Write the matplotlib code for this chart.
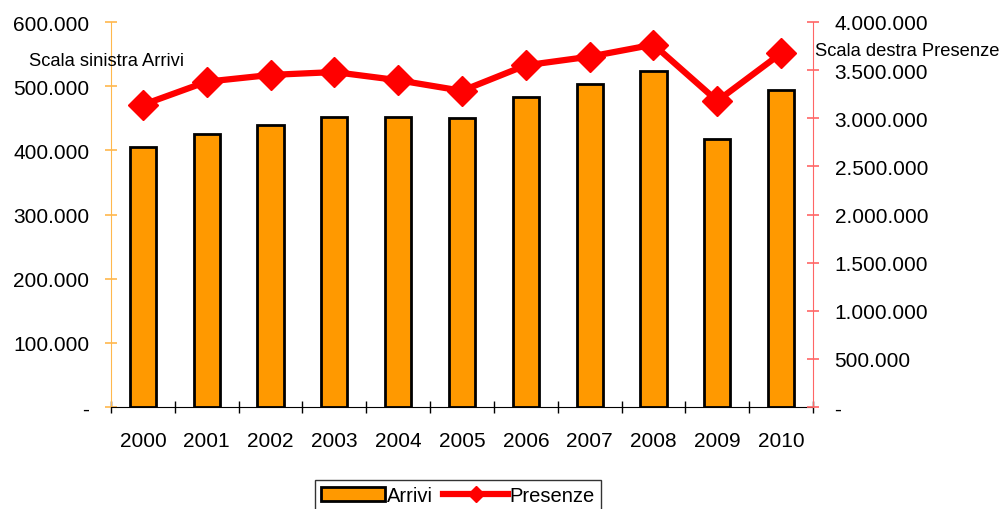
import matplotlib
matplotlib.use("Agg")
import matplotlib.pyplot as plt
from matplotlib.ticker import FuncFormatter, FixedLocator
import numpy as np

plt.rcParams['font.family'] = ['Liberation Sans', 'DejaVu Sans']

anni = ['2000', '2001', '2002', '2003', '2004', '2005', '2006', '2007', '2008', '2009', '2010']
arrivi = [405000, 426000, 440000, 452000, 452000, 451000, 483000, 504000, 523000, 418000, 494000]
presenze = [3140000, 3380000, 3450000, 3480000, 3395000, 3285000, 3550000, 3640000, 3765000, 3180000, 3675000]
tick_sx = [0, 100000, 200000, 300000, 400000, 500000, 600000]
tick_dx = [0, 500000, 1000000, 1500000, 2000000, 2500000, 3000000, 3500000, 4000000]


def fmt_it(v, pos=None):
    if v == 0:
        return '-'
    return f"{int(round(v)):,}".replace(',', '.')


fig = plt.figure(figsize=(10.01, 5.10), dpi=100)
ax = fig.add_axes([111 / 1001, 102 / 510, 702 / 1001, 385 / 510])
ax2 = ax.twinx()

x = np.arange(len(anni))
ax.bar(x, arrivi, width=0.41, color='#FF9900', edgecolor='black', linewidth=2, zorder=2, label='Arrivi')
ax2.plot(x, presenze, color='#FF0000', linewidth=4.5, marker='D', markersize=15,
         markeredgecolor='#FF0000', zorder=3, label='Presenze')

ax.set_xlim(-0.5, len(anni) - 0.5)
ax.set_ylim(0, 600000)
ax2.set_ylim(0, 4000000)

ax.yaxis.set_major_locator(FixedLocator(tick_sx))
ax.yaxis.set_major_formatter(FuncFormatter(fmt_it))
ax2.yaxis.set_major_locator(FixedLocator(tick_dx))
ax2.yaxis.set_major_formatter(FuncFormatter(fmt_it))

ax.set_xticks(x)
ax.set_xticklabels(anni)
ax.xaxis.set_minor_locator(FixedLocator(np.arange(-0.5, len(anni), 1.0)))

for a in (ax, ax2):
    a.spines['top'].set_visible(False)
    a.patch.set_visible(False)

ax.spines['left'].set_color('#FFB84D')
ax.spines['right'].set_visible(False)
ax.spines['bottom'].set_color('black')
ax2.spines['left'].set_visible(False)
ax2.spines['bottom'].set_visible(False)
ax2.spines['right'].set_color('#FF6666')

ax.tick_params(axis='y', direction='inout', length=9, width=1.2, color='#FFB84D',
               labelsize=15, pad=11)
ax2.tick_params(axis='y', direction='inout', length=9, width=1.2, color='#FF6666',
                labelsize=15, pad=11)
ax.tick_params(axis='x', which='major', length=0, labelsize=15, pad=17)
ax.tick_params(axis='x', which='minor', direction='inout', length=9, width=1, color='black')

fig.text(29 / 1001, 1 - 62 / 510, 'Scala sinistra Arrivi', fontsize=13.2, va='center', ha='left')
fig.text(815 / 1001, 1 - 52 / 510, 'Scala destra Presenze', fontsize=13.2, va='center', ha='left')

h1, l1 = ax.get_legend_handles_labels()
h2, l2 = ax2.get_legend_handles_labels()
leg = fig.legend(h1 + h2, l1 + l2, loc='upper center', bbox_to_anchor=(458 / 1001, 1 - 481 / 510),
                 ncol=2, fontsize=14.5, frameon=True, fancybox=False, edgecolor='black',
                 handlelength=3.2, handletextpad=0.1, columnspacing=0.5, borderpad=0.3,
                 borderaxespad=0, markerscale=0.55)
leg.get_frame().set_linewidth(1)

fig.savefig('out.png', dpi=100)
